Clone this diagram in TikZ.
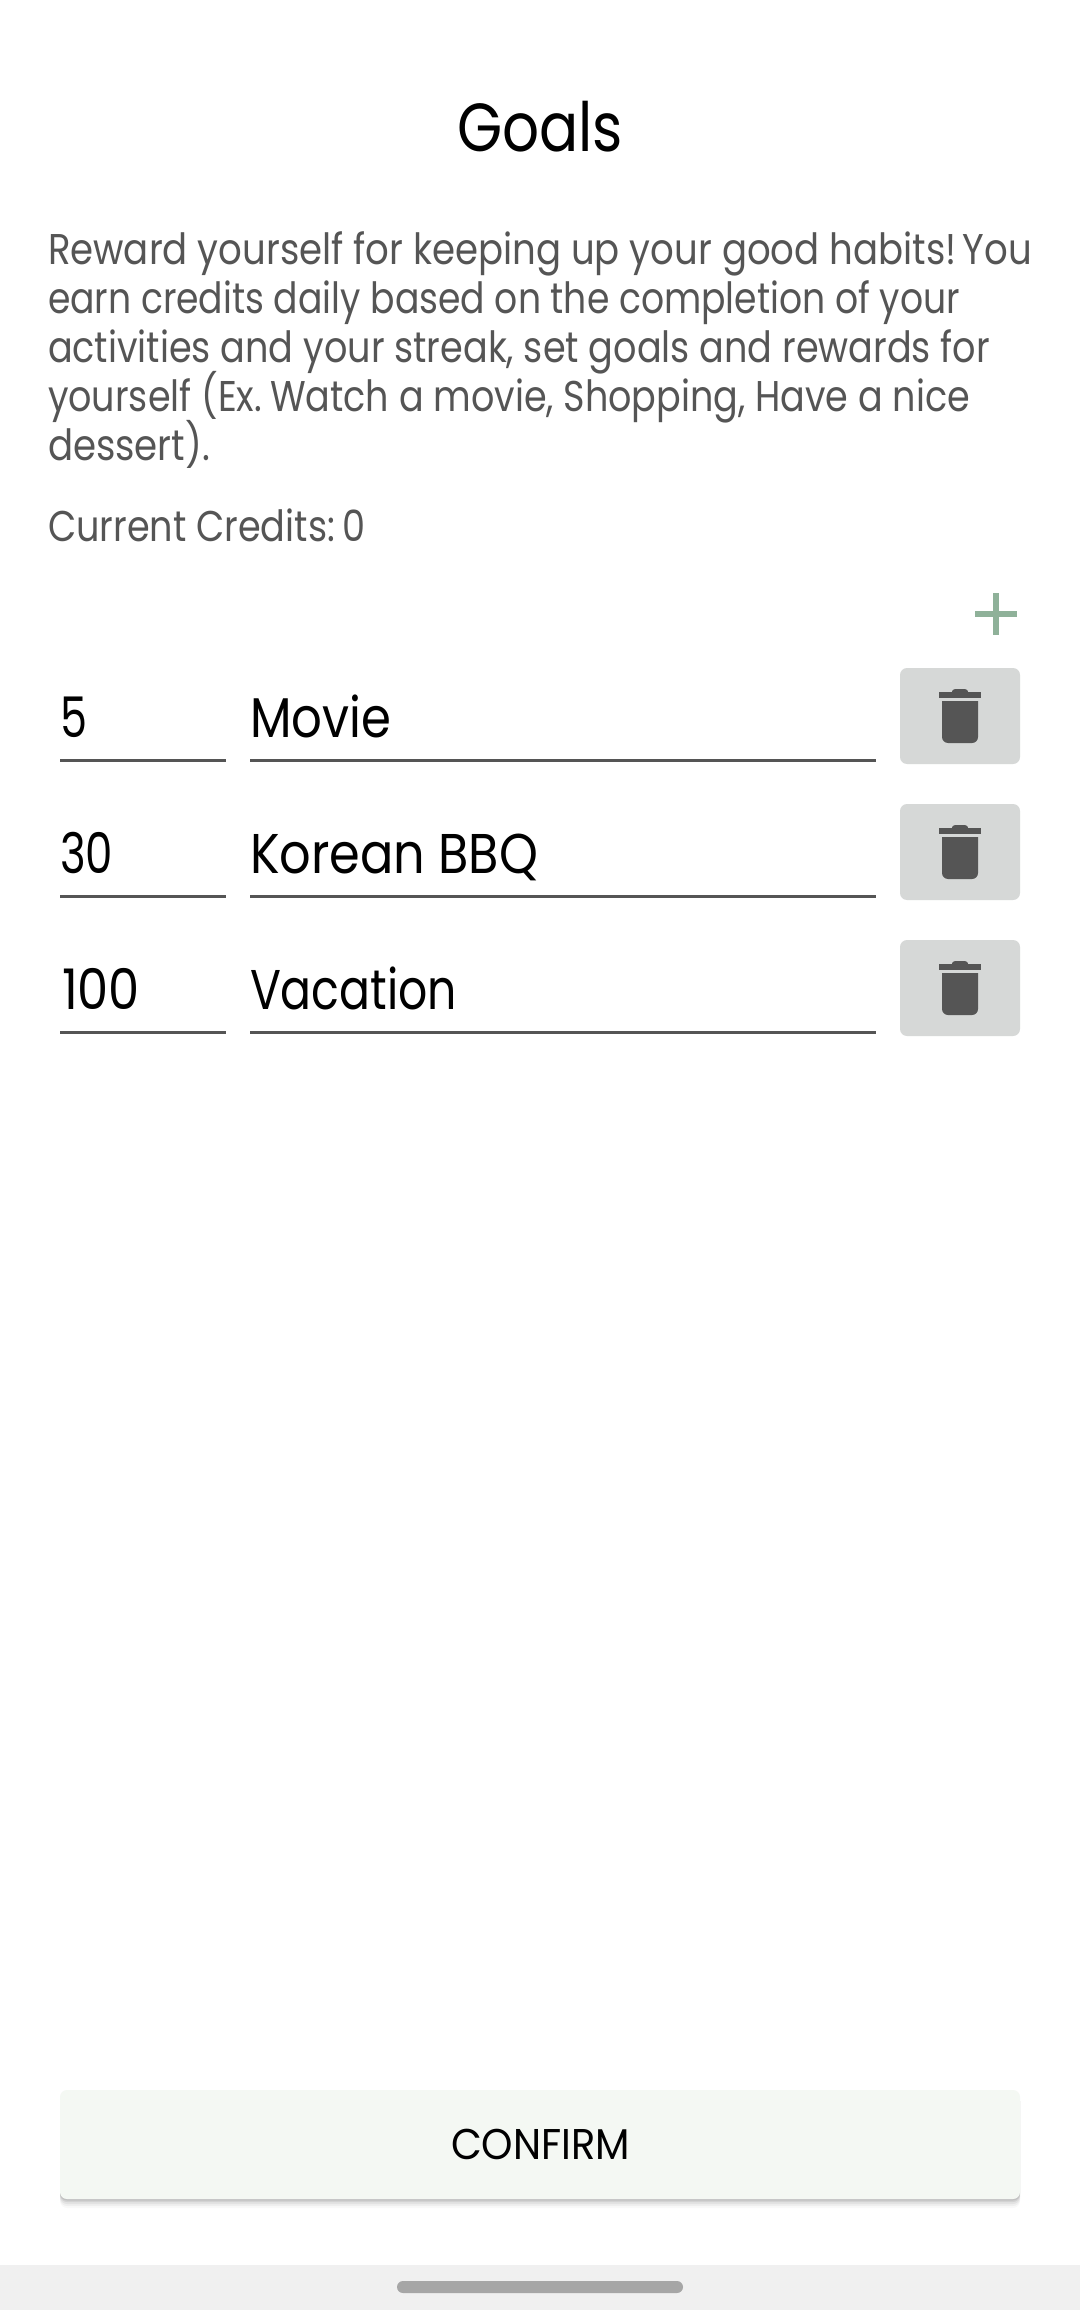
\documentclass[tikz,border=0pt]{standalone}
\usepackage{fontspec}
\usepackage{graphicx}
\setmainfont{Poppins}
\definecolor{bodygrey}{HTML}{555555}
\definecolor{btngrey}{HTML}{D6D8D7}
\definecolor{plusgreen}{HTML}{8FB199}
\definecolor{confirmbg}{HTML}{F4F8F3}
\definecolor{navbg}{HTML}{F0F0F0}
\definecolor{pill}{HTML}{A6A6A6}
\newcommand{\fitw}[2]{\resizebox{0.5\dimexpr #1pt\relax}{\height}{#2}}
\tikzset{
  txt/.style={inner sep=0pt,outer sep=0pt,anchor=base west},
  bodytxt/.style={txt,text=bodygrey,font=\fontsize{21.5pt}{21.5pt}\selectfont},
  rowtxt/.style={txt,text=black,font=\fontsize{28pt}{28pt}\selectfont},
  rule/.style={fill=bodygrey},
}
\begin{document}
\begin{tikzpicture}[x=0.5pt,y=-0.5pt]
\useasboundingbox (0,0) rectangle (1080,2310);
\fill[white] (0,0) rectangle (1080,2310);
% title
\node[txt,anchor=base,font=\fontsize{34pt}{34pt}\selectfont] (title) at (540,152) {\fitw{166}{Goals}};
% body
\node[bodytxt] (l1) at (48,265) {\fitw{984}{Reward yourself for keeping up your good habits!\kern-2pt\ You}};
\node[bodytxt] (l2) at (48,314) {\fitw{912}{earn credits daily based on the completion of your}};
\node[bodytxt] (l3) at (48,363) {\fitw{942}{activities and your streak, set goals and rewards for}};
\node[bodytxt] (l4) at (48,412) {\fitw{922}{yourself (Ex.\kern-1pt\ Watch a movie, Shopping, Have a nice}};
\node[bodytxt] (l5) at (48,461) {\fitw{162}{dessert).}};
\node[bodytxt] (credits) at (48,542) {\fitw{318}{Current Credits:\kern-1pt\ 0}};
% plus
\fill[plusgreen] (975,611) rectangle (1017,617);
\fill[plusgreen] (993,593) rectangle (999,635);
% rows
\foreach \i/\y/\a/\ax/\aw/\b/\bw in {1/0/5/60/27/Movie/141, 2/136/30/60/53/Korean BBQ/288, 3/272/100/62/78/Vacation/207}{
  \begin{scope}[shift={(0,\y)}]
    \node[rowtxt] (val\i) at (\ax,737) {\fitw{\aw}{\a}};
    \node[rowtxt] (name\i) at (250,737) {\fitw{\bw}{\b}};
    \fill[rule] (60,759) rectangle (226,762);
    \fill[rule] (250,759) rectangle (876,762);
    \fill[btngrey,rounded corners=3.5pt] (900,668) rectangle (1020,764);
    % trash icon
    \fill[bodygrey] (939,692) rectangle (981,698);
    \fill[bodygrey,rounded corners=1.2pt] (951,693) -- (953,689) -- (967,689) -- (969,693) -- cycle;
    \fill[bodygrey] (942,701) -- (978,701) -- (978,737) arc[start angle=0,end angle=90,radius=6] -- (948,743) arc[start angle=90,end angle=180,radius=6] -- cycle;
  \end{scope}
}
% confirm button with soft shadow
\foreach \d/\o in {9/0.025,7/0.04,5/0.05,3/0.07,1.5/0.08}{
  \fill[black,opacity=\o,rounded corners=3.5pt] (60,2094) rectangle (1020,2199+\d);
}
\fill[confirmbg,rounded corners=3.5pt] (60,2090) rectangle (1020,2199);
\node[txt,anchor=base,text=black,font=\fontsize{21.5pt}{21.5pt}\selectfont] (confirm) at (540.5,2159) {\fitw{179}{CONFIRM}};
% nav bar
\fill[navbg] (0,2265) rectangle (1080,2310);
\fill[pill,rounded corners=3pt] (397,2281) rectangle (683,2293);
\end{tikzpicture}
\end{document}
